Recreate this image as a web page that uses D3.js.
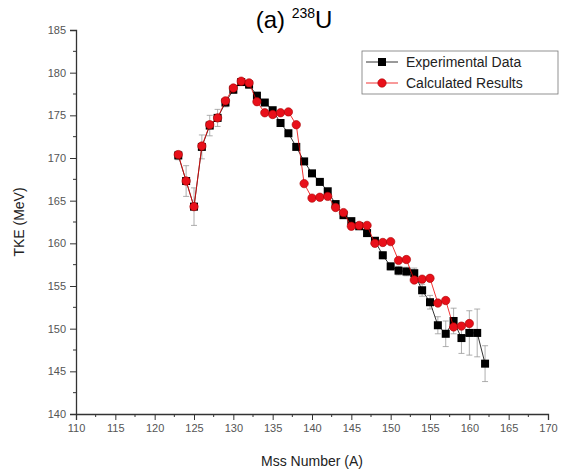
<!DOCTYPE html>
<html><head><meta charset="utf-8">
<script src="https://cdn.jsdelivr.net/npm/d3@7/dist/d3.min.js"></script>
<style>body{margin:0;background:#fff}svg{display:block;font-family:"Liberation Sans",Arial,sans-serif}</style>
</head><body><svg id="c" width="561" height="473"></svg>
<script>
const massExp = [123,124,125,126,127,128,129,130,131,132,133,134,135,136,137,138,139,140,141,142,143,144,145,146,147,148,149,150,151,152,153,154,155,156,157,158,159,160,161,162];
const tkeExp  = [170.3,167.3,164.3,171.3,173.8,174.7,176.5,178.0,178.9,178.6,177.3,176.5,175.6,174.1,172.9,171.3,169.6,168.2,167.2,166.1,164.6,163.3,162.6,162.0,161.2,160.3,158.6,157.3,156.8,156.7,156.5,154.5,153.1,150.4,149.4,150.9,148.9,149.5,149.5,145.9];
const errExp  = [0.5,1.8,2.2,1.4,1.2,1.0,0.5,0.4,0.4,0.4,0.4,0.3,0.3,0.3,0.3,0.3,0.3,0.3,0.3,0.3,0.3,0.3,0.3,0.3,0.3,0.3,0.4,0.4,0.5,0.5,0.6,0.7,0.8,1.0,1.5,1.5,1.8,2.6,2.8,2.1];
const massCalc = [123,124,125,126,127,128,129,130,131,132,133,134,135,136,137,138,139,140,141,142,143,144,145,146,147,148,149,150,151,152,153,154,155,156,157,158,159,160];
const tkeCalc  = [170.4,167.3,164.3,171.4,173.9,174.7,176.7,178.2,179.0,178.8,176.6,175.3,175.1,175.3,175.4,173.9,167.0,165.3,165.4,165.5,164.2,163.6,162.0,162.1,162.1,160.0,160.1,160.2,158.0,158.1,155.7,155.8,155.9,153.0,153.3,150.2,150.3,150.6];
const xTicks = [110,115,120,125,130,135,140,145,150,155,160,165,170];
const yTicks = [140,145,150,155,160,165,170,175,180,185];
const seriesNames = ["Experimental Data","Calculated Results"];

const svg = d3.select("#c");
const x = d3.scaleLinear().domain([110,170]).range([76,548]);
const y = d3.scaleLinear().domain([140,185]).range([414,30]);

const xAxis = svg.append("g").attr("transform","translate(0,414)")
  .call(d3.axisBottom(x).tickValues(xTicks).tickSize(6).tickPadding(4).tickFormat(d3.format("d")));
const yAxis = svg.append("g").attr("transform","translate(76,0)")
  .call(d3.axisLeft(y).tickValues(yTicks).tickSize(6).tickPadding(4).tickFormat(d3.format("d")));
const xMinor = d3.range(112.5,170,5), yMinor = d3.range(142.5,185,5);
svg.append("g").selectAll("line").data(xMinor).join("line")
  .attr("x1",d=>x(d)).attr("x2",d=>x(d)).attr("y1",414).attr("y2",417).attr("stroke","#333");
svg.append("g").selectAll("line").data(yMinor).join("line")
  .attr("y1",d=>y(d)).attr("y2",d=>y(d)).attr("x1",76).attr("x2",73).attr("stroke","#333");
[xAxis,yAxis].forEach(g=>{
  g.select(".domain").attr("stroke","#333").attr("stroke-width",1.3);
  g.selectAll(".tick line").attr("stroke","#333");
  g.selectAll("text").attr("font-size",11).attr("fill","#555").attr("font-family","Liberation Sans, Arial, sans-serif");
});

const eb = svg.append("g").attr("stroke","#999").attr("stroke-width",0.8);
massExp.forEach((m,i)=>{
  const e = errExp[i], v = tkeExp[i];
  eb.append("line").attr("x1",x(m)).attr("x2",x(m)).attr("y1",y(v-e)).attr("y2",y(v+e));
  eb.append("line").attr("x1",x(m)-3).attr("x2",x(m)+3).attr("y1",y(v-e)).attr("y2",y(v-e));
  eb.append("line").attr("x1",x(m)-3).attr("x2",x(m)+3).attr("y1",y(v+e)).attr("y2",y(v+e));
});

const line = d3.line();
const expPts = massExp.map((m,i)=>[x(m),y(tkeExp[i])]);
const calcPts = massCalc.map((m,i)=>[x(m),y(tkeCalc[i])]);
svg.append("path").attr("d",line(expPts)).attr("fill","none").attr("stroke","#000").attr("stroke-width",0.8);
svg.append("g").selectAll("rect").data(expPts).join("rect")
  .attr("x",d=>d[0]-4).attr("y",d=>d[1]-4).attr("width",8).attr("height",8).attr("fill","#000");
svg.append("path").attr("d",line(calcPts)).attr("fill","none").attr("stroke","#e00").attr("stroke-width",0.8);
svg.append("g").selectAll("circle").data(calcPts).join("circle")
  .attr("cx",d=>d[0]).attr("cy",d=>d[1]).attr("r",4.2).attr("fill","#e8101a").attr("stroke","#a00").attr("stroke-width",0.6);

const t = svg.append("text").attr("x",294).attr("y",28).attr("text-anchor","middle").attr("font-size",24).attr("fill","#000");
t.append("tspan").text("(a) ");
t.append("tspan").attr("font-size",14).attr("dy",-10).text("238");
t.append("tspan").attr("dy",10).text("U");

svg.append("text").attr("x",312).attr("y",466).attr("text-anchor","middle").attr("font-size",14).attr("fill","#222").text("Mss Number (A)");
svg.append("text").attr("transform","translate(24,222) rotate(-90)").attr("text-anchor","middle").attr("font-size",14).attr("fill","#222").text("TKE (MeV)");

const lg = svg.append("g");
lg.append("rect").attr("x",362).attr("y",51).attr("width",196).attr("height",43).attr("fill","#fff").attr("stroke","#777").attr("stroke-width",0.8);
const rows = [{c:"#000",shape:"sq"},{c:"#e8101a",shape:"ci"}];
rows.forEach((r,i)=>{
  const yy = 62 + i*21;
  lg.append("line").attr("x1",366).attr("x2",398).attr("y1",yy).attr("y2",yy).attr("stroke",i?"#e00":"#000").attr("stroke-width",0.8);
  if(r.shape==="sq") lg.append("rect").attr("x",378).attr("y",yy-4).attr("width",8).attr("height",8).attr("fill","#000");
  else lg.append("circle").attr("cx",382).attr("cy",yy).attr("r",4.2).attr("fill",r.c).attr("stroke","#a00").attr("stroke-width",0.6);
  lg.append("text").attr("x",406).attr("y",yy+5).attr("font-size",14).attr("fill","#222").text(seriesNames[i]);
});
</script></body></html>
